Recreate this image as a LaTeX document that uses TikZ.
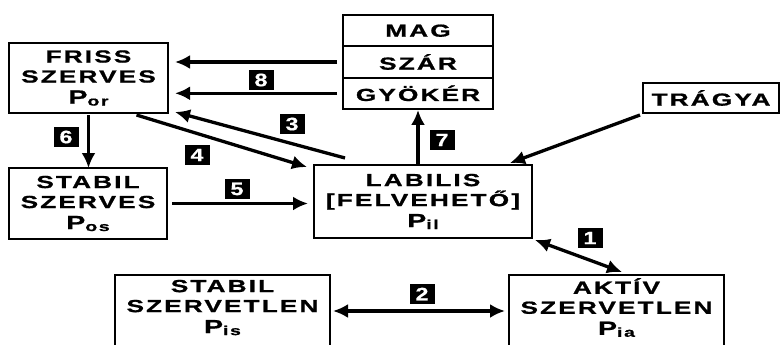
\documentclass[tikz,border=0pt]{standalone}
\usepackage{fontspec}
\setmainfont{Liberation Sans}
\newfontfamily\boxfont{Liberation Sans Bold}[FakeStretch=1.5,LetterSpace=12,FakeBold=1]
\newfontfamily\numfont{Liberation Sans Bold}[FakeStretch=1.3,FakeBold=0.5]
\usetikzlibrary{arrows.meta, positioning}
\newcommand{\Pind}[1]{{\fontsize{19}{22}\selectfont P}\raisebox{-2pt}{\fontsize{13}{12}\selectfont #1}}

\begin{document}
\begin{tikzpicture}[
    x=1pt, y=-1pt,
    box/.style={rectangle, draw=black, line width=2pt, outer sep=0pt, inner sep=0pt, align=center, font=\boxfont\fontsize{17.5}{20}\selectfont},
    part/.style={box, minimum width=150pt, minimum height=31.3pt},
    num/.style={rectangle, fill=black, text=white, minimum width=25pt, minimum height=20pt, inner sep=0pt, font=\numfont\fontsize{18}{18}\selectfont},
    arrow/.style={->, >={Latex[length=15pt,width=14pt]}, line width=3.3pt},
    both/.style={arrow, <->}
]
\useasboundingbox (0,0) rectangle (781,345);

\node[box, minimum width=159pt, minimum height=70pt] (friss) at (88.5,78) {FRISS\\SZERVES\\[1pt]\Pind{or}};
\node[box, minimum width=158pt, minimum height=71pt] (stabilorg) at (88,203.5) {STABIL\\SZERVES\\[1pt]\Pind{os}};
\node[box, minimum width=218pt, minimum height=73pt] (labilis) at (423,201.5) {LABILIS\\{[}FELVEHETŐ]\\[1pt]\Pind{il}};

\node[part] (mag) at (418,30.7) {MAG};
\node[part, below=0pt of mag] (szar) {SZÁR};
\node[part, below=0pt of szar] (gyoker) {GYÖKÉR};

\node[box, minimum width=136pt, minimum height=30pt] (tragya) at (711,98) {TRÁGYA};

\node[box, minimum width=215pt, minimum height=80pt, text depth=17pt, anchor=north] (stabilsz) at (222.5,275) {STABIL\\SZERVETLEN\\[1pt]\Pind{is}};
\node[box, minimum width=215pt, minimum height=80pt, text depth=17pt, anchor=north] (aktiv) at (616.5,275) {AKTÍV\\SZERVETLEN\\[1pt]\Pind{ia}};

% numbered labels
\node[num] (n1) at (590,238) {1};
\node[num] (n2) at (422,294) {2};
\node[num] (n3) at (292,124) {3};
\node[num] (n4) at (197,155) {4};
\node[num] (n5) at (237,189) {5};
\node[num] (n6) at (66,137) {6};
\node[num] (n7) at (442,140) {7};
\node[num] (n8) at (261,80) {8};

\draw[arrow, shorten <=6pt, shorten >=7pt] (szar.west) -- (szar.west -| friss.east);
\draw[arrow, shorten <=6pt, shorten >=7pt] (gyoker.west) -- (gyoker.west -| friss.east);
\draw[arrow, shorten <=2pt] (friss.south) -- (friss.south |- stabilorg.north);
\draw[arrow] ([xshift=48pt,yshift=-2pt]friss.south) -- ([xshift=-7pt,yshift=-2pt]labilis.north west);
\draw[arrow] ([xshift=31pt,yshift=7pt]labilis.north west) -- ([xshift=7pt,yshift=1pt]friss.south east);
\draw[arrow, shorten >=1pt] (labilis.north -| gyoker.south) -- (gyoker.south);
\draw[arrow] ([xshift=-3pt,yshift=-2pt]tragya.south west) -- ([xshift=-22pt,yshift=2pt]labilis.north east);
\draw[arrow, shorten <=5pt, shorten >=6pt] (stabilorg.east) -- (stabilorg.east -| labilis.west);
\draw[both] ([xshift=3pt,yshift=-2pt]labilis.south east) -- ([xshift=5.5pt,yshift=3pt]aktiv.north);
\draw[both, shorten <=3pt, shorten >=4pt] ([yshift=4pt]stabilsz.east) -- ([yshift=4pt]aktiv.west);

\end{tikzpicture}
\end{document}
